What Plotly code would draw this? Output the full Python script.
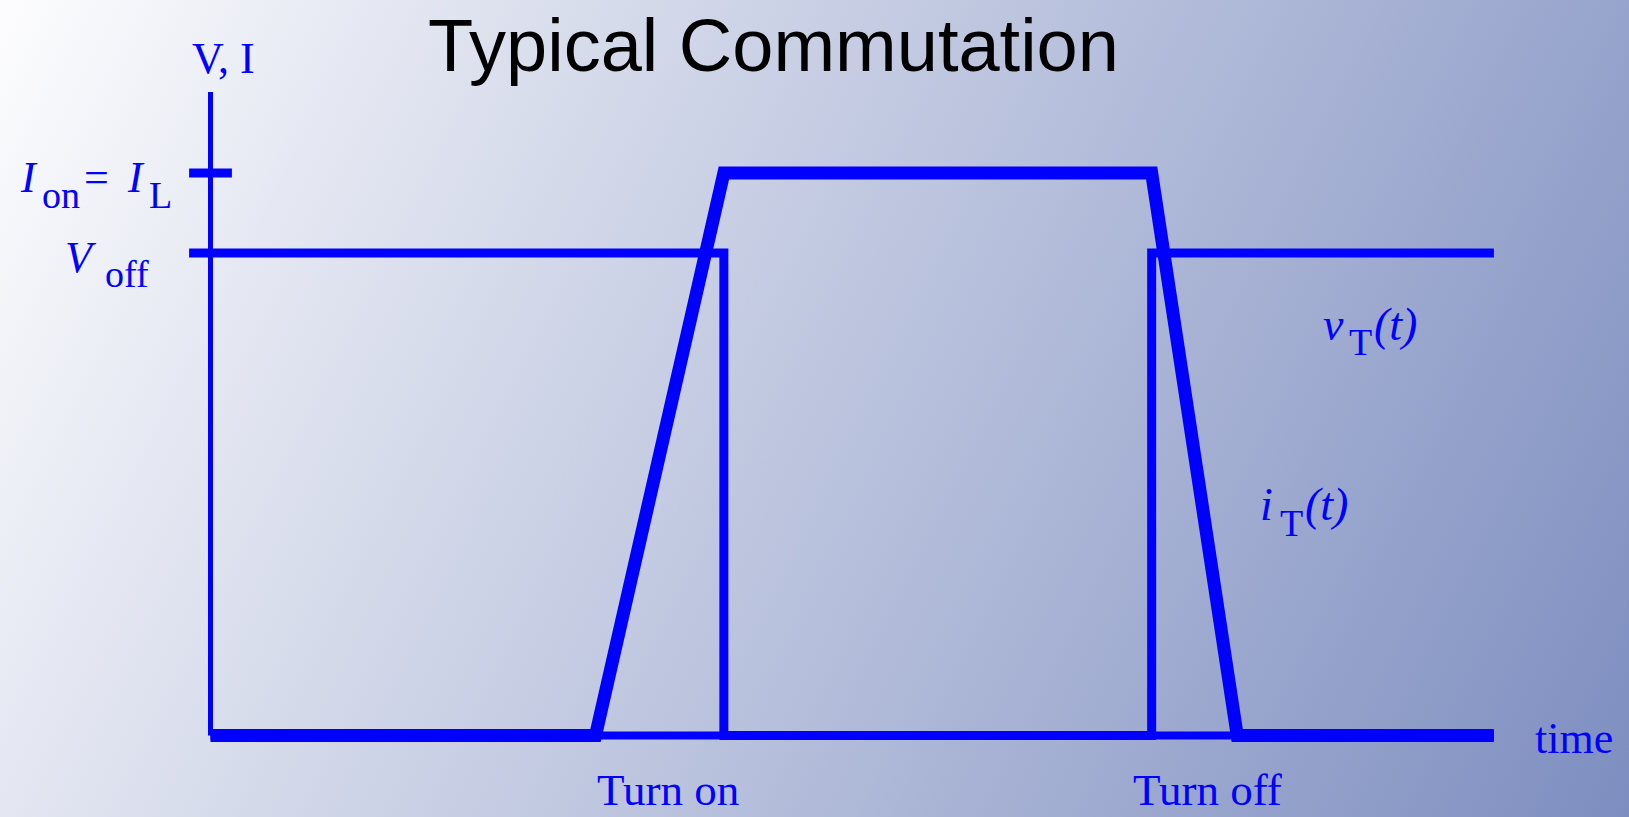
import base64
import plotly.graph_objects as go

# ---- waveform data (time in arbitrary units, levels normalised to I_L = 1) ----
I_L = 1.0
V_OFF = 0.858
AXIS_TOP = 1.144
T_END = 30

# thyristor voltage v_T(t)
time_v = [-0.5, 12, 12, 22, 22, 30]
volt_v = [V_OFF, V_OFF, 0, 0, V_OFF, V_OFF]

# thyristor current i_T(t)
time_i = [0, 9, 12, 22, 24, 30]
curr_i = [0, 0, I_L, I_L, 0, 0]

# ---- canvas / scale set-up ----
W, H = 1629, 817
X0_PX, PX_PER_T = 210.5, 42.78      # t = 0 position and pixels per time unit
Y0_PX, PX_PER_Y = 735.5, 562.5      # zero level position and pixels per unit
BLUE = "#0000ff"
SERIF = "Liberation Serif, Times New Roman, serif"
SANS = "Liberation Sans, Arial, sans-serif"

x_range = [-X0_PX / PX_PER_T, (W - X0_PX) / PX_PER_T]
y_range = [-(H - Y0_PX) / PX_PER_Y, Y0_PX / PX_PER_Y]

fig = go.Figure()

# axes drawn as plain lines
fig.add_trace(go.Scatter(x=[0, 0], y=[0, AXIS_TOP], mode="lines",
                         line=dict(color=BLUE, width=5), hoverinfo="skip"))
fig.add_trace(go.Scatter(x=[0, T_END], y=[0, 0], mode="lines",
                         line=dict(color=BLUE, width=8), hoverinfo="skip"))
fig.add_trace(go.Scatter(x=[-0.5, 0.5], y=[I_L, I_L], mode="lines",
                         line=dict(color=BLUE, width=9), hoverinfo="skip"))

fig.add_trace(go.Scatter(x=time_v, y=volt_v, mode="lines", name="v_T",
                         line=dict(color=BLUE, width=9)))
fig.add_trace(go.Scatter(x=time_i, y=curr_i, mode="lines", name="i_T",
                         line=dict(color=BLUE, width=13)))


def px(x):
    return x / W


def py(y):
    return 1 - y / H


def label(text, x_left, baseline, size=44, font=SERIF, italic=False, color=BLUE,
          anchor="left"):
    if italic:
        text = "<i>" + text + "</i>"
    fig.add_annotation(text=text, xref="paper", yref="paper",
                       x=px(x_left), y=py(baseline - 0.34 * size),
                       xanchor=anchor, yanchor="middle", showarrow=False,
                       font=dict(family=font, size=size, color=color))


SUB = 38

# title
fig.add_annotation(text="Typical Commutation", xref="paper", yref="paper",
                   x=px(773), y=py(72 - 0.36 * 74), xanchor="center",
                   yanchor="middle", showarrow=False,
                   font=dict(family=SANS, size=74, color="black"))

label("V, I", 190, 73)

label("I", 18, 192, italic=True)
label("on", 40, 208, size=SUB)
label("=", 82, 192)
label("I", 125, 192, italic=True)
label("L", 147, 208, size=SUB)

label("V", 63, 272, italic=True)
label("off", 103, 287, size=SUB)

label("v", 1321, 340, size=46, italic=True)
label("T", 1347, 355, size=SUB)
label("(t)", 1372, 340, size=46, italic=True)

label("i", 1258, 520, size=46, italic=True)
label("T", 1278, 536, size=SUB)
label("(t)", 1303, 520, size=46, italic=True)

label("time", 1533, 753)
label("Turn on", 595, 805, size=45)
label("Turn off", 1131, 805, size=45)

# diagonal background gradient
svg = (
    f"<svg xmlns='http://www.w3.org/2000/svg' width='{W}' height='{H}'>"
    "<defs><linearGradient id='g' gradientUnits='userSpaceOnUse' "
    "x1='0' y1='0' x2='1701' y2='838'>"
    "<stop offset='0' stop-color='#fdfdfe'/>"
    "<stop offset='1' stop-color='#7889bd'/>"
    "</linearGradient></defs>"
    f"<rect width='{W}' height='{H}' fill='url(#g)'/></svg>"
)
bg = "data:image/svg+xml;base64," + base64.b64encode(svg.encode()).decode()

fig.update_layout(
    width=W, height=H,
    margin=dict(l=0, r=0, t=0, b=0),
    paper_bgcolor="white",
    plot_bgcolor="rgba(0,0,0,0)",
    showlegend=False,
    images=[dict(source=bg, xref="paper", yref="paper", x=0, y=1,
                 sizex=1, sizey=1, sizing="stretch", layer="below",
                 xanchor="left", yanchor="top")],
    xaxis=dict(range=x_range, visible=False, showgrid=False, zeroline=False,
               fixedrange=True),
    yaxis=dict(range=y_range, visible=False, showgrid=False, zeroline=False,
               fixedrange=True),
)

fig.write_html("out.html", config={"displayModeBar": False})
